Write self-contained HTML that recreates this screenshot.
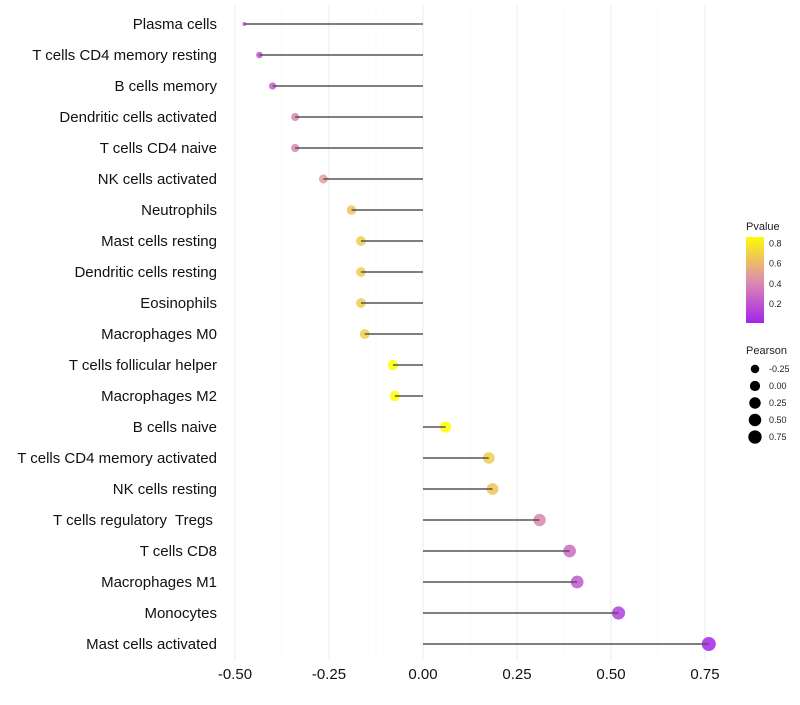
<!DOCTYPE html>
<html><head><meta charset="utf-8"><style>
body{margin:0;background:#fff;font-family:"Liberation Sans",sans-serif}
</style></head><body>
<svg id="c" width="800" height="700" xmlns="http://www.w3.org/2000/svg"></svg>
<script>
const categories=["Plasma cells","T cells CD4 memory resting","B cells memory","Dendritic cells activated","T cells CD4 naive","NK cells activated","Neutrophils","Mast cells resting","Dendritic cells resting","Eosinophils","Macrophages M0","T cells follicular helper","Macrophages M2","B cells naive","T cells CD4 memory activated","NK cells resting","T cells regulatory  Tregs ","T cells CD8","Macrophages M1","Monocytes","Mast cells activated"];
const pearson=[-0.475,-0.435,-0.40,-0.34,-0.34,-0.265,-0.19,-0.165,-0.165,-0.165,-0.155,-0.08,-0.075,0.06,0.175,0.185,0.31,0.39,0.41,0.52,0.76];
const pvalue=[0.25,0.2,0.25,0.4,0.4,0.5,0.65,0.68,0.68,0.68,0.68,0.88,0.88,0.9,0.68,0.65,0.4,0.3,0.22,0.12,0.02];
const xTicks=[-0.5,-0.25,0,0.25,0.5,0.75];
const xTickLabels=["-0.50","-0.25","0.00","0.25","0.50","0.75"];
const pTicks=[0.2,0.4,0.6,0.8];
const sizeLegend=[-0.25,0,0.25,0.5,0.75];
const NS="http://www.w3.org/2000/svg";
const svg=document.getElementById('c');
const X=v=>423+v*376;
const Y=i=>24+i*31;
const R=v=>2+5*Math.pow(Math.max(0,(v+0.475)/1.235),0.4);
function lerp(a,b,t){return a.map((x,i)=>Math.round(x+(b[i]-x)*t));}
function col(p){const lo=[160,32,240],mid=[223,143,170],hi=[255,255,0];const t=Math.max(0,Math.min(1,p/0.88));
 const c=t<0.5?lerp(lo,mid,t/0.5):lerp(mid,hi,(t-0.5)/0.5);return `rgb(${c[0]},${c[1]},${c[2]})`;}
function el(t,a,txt){const e=document.createElementNS(NS,t);for(const k in a)e.setAttribute(k,a[k]);if(txt!==undefined)e.textContent=txt;svg.appendChild(e);return e;}
for(let k=0;k<xTicks.length;k++){
 const g=el('line',{x1:X(xTicks[k]),x2:X(xTicks[k]),y1:5,y2:660,stroke:'#ebebeb','stroke-width':1});
 
 
 if(k<xTicks.length-1){const m=el('line',{x1:X((xTicks[k]+xTicks[k+1])/2),x2:X((xTicks[k]+xTicks[k+1])/2),y1:5,y2:660,stroke:'#f4f4f4','stroke-width':0.6});
 
 }
 const t=el('text',{x:X(xTicks[k]),y:679,'text-anchor':'middle','font-size':15,fill:'#111'},xTickLabels[k]);
 
 
}
for(let i=0;i<categories.length;i++){
 const l=el('text',{x:217,y:Y(i)+5,'text-anchor':'end','font-size':15,fill:'#111'},categories[i]);
 l.setAttribute('xml:space','preserve');
 l.style.whiteSpace='pre';
 
 
 const c=el('circle',{cx:X(pearson[i]),cy:Y(i),r:R(pearson[i]),fill:col(pvalue[i]),'fill-opacity':0.85});
 
 
 const s=el('line',{x1:X(0),x2:X(pearson[i]),y1:Y(i),y2:Y(i),stroke:'#555','stroke-width':1.5});
 
 
}
const defs=el('defs',{});
const lg=document.createElementNS(NS,'linearGradient');lg.setAttribute('id','pg');lg.setAttribute('x1',0);lg.setAttribute('y1',1);lg.setAttribute('x2',0);lg.setAttribute('y2',0);defs.appendChild(lg);
for(let s=0;s<=10;s++){const st=document.createElementNS(NS,'stop');st.setAttribute('offset',s/10);const p=0.02+(0.86-0.02)*s/10;st.setAttribute('stop-color',col(p));lg.appendChild(st);}
const lt=el('text',{x:746,y:230,'font-size':11,fill:'#222'},'Pvalue');


const bar=el('rect',{x:746,y:237,width:18,height:86,fill:'url(#pg)'});


const PY=p=>322-(p-0.02)*101.6;
for(const p of pTicks){
 const t=el('text',{x:769,y:PY(p)+3.5,'font-size':9,fill:'#222'},p.toFixed(1));
 
 
}
const st=el('text',{x:746,y:354,'font-size':11,fill:'#222'},'Pearson');


for(let k=0;k<sizeLegend.length;k++){
 const yy=369+k*17;
 const c=el('circle',{cx:755,cy:yy,r:R(sizeLegend[k])-0.3,fill:'#000'});
 
 
 const t=el('text',{x:769,y:yy+3,'font-size':9,fill:'#222'},sizeLegend[k].toFixed(2));
 
 
}
</script>
</body></html>
